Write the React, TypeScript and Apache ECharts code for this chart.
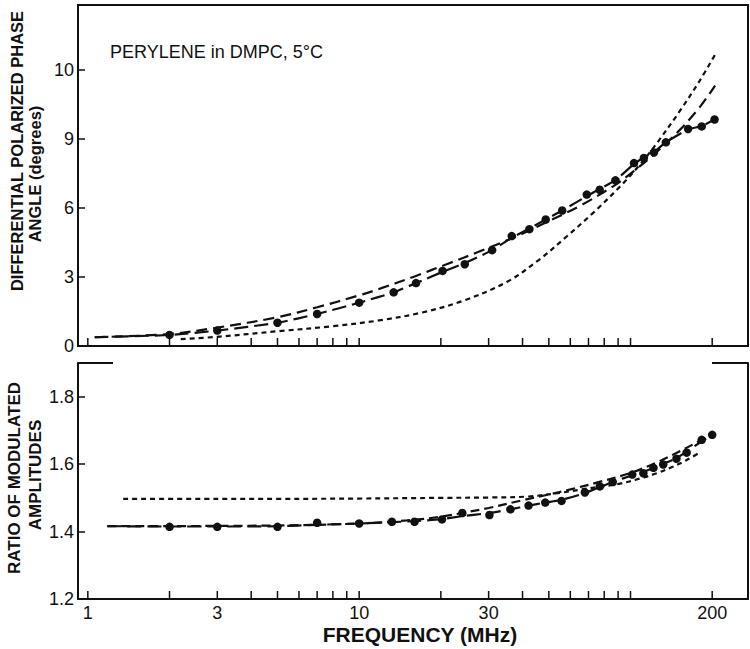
import React, { useEffect, useRef } from "react";
import * as echarts from "echarts";

// ---------- data ----------
// Upper panel: differential polarized phase angle (degrees)
const phaseDataFreq = [2, 3, 5, 7, 10, 13.4, 16.2, 20.3, 24.5, 30.9, 36.5, 42.4, 48.7, 56, 69, 77, 88, 103, 112, 122, 135, 163, 183, 204];
const phaseDataValues = [0.48, 0.67, 1.01, 1.39, 1.88, 2.33, 2.73, 3.26, 3.55, 4.16, 4.77, 5.07, 5.49, 5.88, 6.57, 6.78, 7.19, 7.94, 8.16, 8.4, 8.84, 9.42, 9.53, 9.83];

const phaseFitAFreq = [1.06, 2, 3, 5, 7, 10, 13.4, 16.2, 20.3, 24.5, 30.9, 36.5, 42.4, 48.7, 56, 69, 77, 88, 103, 112, 122, 135, 163, 183, 204];
const phaseFitAValues = [0.38, 0.48, 0.67, 1.01, 1.39, 1.88, 2.33, 2.73, 3.22, 3.6, 4.16, 4.7, 5.1, 5.49, 5.88, 6.5, 6.82, 7.2, 7.9, 8.18, 8.42, 8.84, 9.4, 9.55, 9.83];

const phaseFitBFreq = [1.06, 2, 3, 5, 7, 10, 12, 16, 21, 28, 37, 50, 65, 86, 102, 121, 152, 180, 205];
const phaseFitBValues = [0.38, 0.52, 0.8, 1.25, 1.68, 2.2, 2.5, 3.02, 3.55, 4.12, 4.7, 5.42, 6.08, 6.92, 7.56, 8.28, 9.38, 10.37, 11.3];

const phaseFitCFreq = [2.2, 3, 5, 8, 12, 17, 24, 35, 46, 58, 73, 92, 109, 125, 152, 180, 206];
const phaseFitCValues = [0.3, 0.4, 0.64, 0.86, 1.12, 1.45, 1.95, 2.78, 3.74, 4.74, 5.79, 6.95, 7.91, 8.8, 10.2, 11.52, 12.69];

// Lower panel: ratio of modulated amplitudes
const ratioDataFreq = [2, 3, 5, 7, 10, 13.2, 16, 20.2, 24, 30.2, 36.1, 42.1, 48.5, 55.7, 67.9, 77.1, 86, 101.5, 111.5, 121.5, 132, 147.7, 161, 183, 200];
const ratioDataValues = [1.414, 1.414, 1.414, 1.426, 1.424, 1.429, 1.429, 1.436, 1.455, 1.449, 1.466, 1.477, 1.486, 1.491, 1.516, 1.534, 1.547, 1.569, 1.573, 1.589, 1.599, 1.616, 1.634, 1.672, 1.687];

const ratioFitAFreq = [1.18, 2, 3, 5, 7, 10, 13.2, 16, 20.2, 24, 30.2, 36.1, 42.1, 48.5, 55.7, 67.9, 77.1, 86, 101.5, 111.5, 121.5, 132, 147.7, 161, 183, 200];
const ratioFitAValues = [1.416, 1.415, 1.415, 1.416, 1.42, 1.424, 1.428, 1.431, 1.437, 1.446, 1.455, 1.466, 1.477, 1.486, 1.494, 1.514, 1.532, 1.547, 1.567, 1.577, 1.589, 1.601, 1.618, 1.637, 1.668, 1.687];

const ratioFitBFreq = [1.18, 5, 10, 15, 20, 25, 30, 40, 50, 60, 75, 100, 125, 150, 175, 200];
const ratioFitBValues = [1.416, 1.418, 1.424, 1.433, 1.444, 1.458, 1.47, 1.493, 1.51, 1.525, 1.545, 1.574, 1.605, 1.636, 1.664, 1.69];

const ratioFitCFreq = [1.35, 3, 5, 10, 20, 30, 42, 55, 65, 77, 90, 108, 125, 143, 160, 177];
const ratioFitCValues = [1.497, 1.497, 1.497, 1.498, 1.5, 1.501, 1.504, 1.515, 1.524, 1.533, 1.541, 1.557, 1.573, 1.592, 1.611, 1.631];

// Axes
const xTickValues = [1, 2, 3, 4, 5, 6, 7, 8, 9, 10, 20, 30, 40, 50, 60, 70, 80, 90, 100, 200];
const xLabelValues = [1, 3, 10, 30, 200];
const xLabelTexts = ["1", "3", "10", "30", "200"];
const phaseTicks = [0, 3, 6, 9, 12];
const phaseTickLabels = ["0", "3", "6", "9", "10"];
const ratioTicks = [1.2, 1.4, 1.6, 1.8];
const ratioTickLabels = ["1.2", "1.4", "1.6", "1.8"];

const annotation = "PERYLENE in DMPC, 5°C";
const phaseTitle1 = "DIFFERENTIAL POLARIZED PHASE";
const phaseTitle2 = "ANGLE (degrees)";
const ratioTitle1 = "RATIO OF MODULATED";
const ratioTitle2 = "AMPLITUDES";
const xTitle = "FREQUENCY (MHz)";

// ---------- styling ----------
const INK = "#111";
const FONT = '"Liberation Sans", Arial, Helvetica, sans-serif';
const X_MIN = 0.92;
const X_MAX = 271;
const PHASE_MIN = 0;
const PHASE_MAX = 14.8;
const RATIO_MIN = 1.2;
const RATIO_MAX = 1.9;

const pairs = (xs: number[], ys: number[]) => xs.map((x, i) => [x, ys[i]]);

const labelFor = (ticks: number[], labels: string[]) => (v: number) => {
  const i = ticks.findIndex((t) => Math.abs(t - v) < 1e-6);
  return i >= 0 ? labels[i] : "";
};

const lineSeries = (name: string, data: number[][], dash: number[], axis: number, smooth = 0.35) => ({
  name,
  type: "line",
  xAxisIndex: axis,
  yAxisIndex: axis,
  data,
  smooth,
  symbol: "none",
  silent: true,
  lineStyle: { color: INK, width: 2.2, type: dash, opacity: 1 },
  z: 3,
});

const dotSeries = (name: string, data: number[][], axis: number) => ({
  name,
  type: "scatter",
  xAxisIndex: axis,
  yAxisIndex: axis,
  data,
  symbol: "circle",
  symbolSize: 8.5,
  silent: true,
  itemStyle: { color: INK, opacity: 1 },
  z: 4,
});

const tickSeries = (axis: number, yBase: number) => ({
  type: "custom",
  xAxisIndex: axis,
  yAxisIndex: axis,
  silent: true,
  data: xTickValues.map((v) => [v, yBase]),
  renderItem: (_params: any, api: any) => {
    const p = api.coord([api.value(0), api.value(1)]);
    return {
      type: "line",
      shape: { x1: p[0], y1: p[1], x2: p[0], y2: p[1] - 8 },
      style: { stroke: INK, lineWidth: 1.5 },
    };
  },
  z: 5,
});

const xLabelSeries = {
  type: "custom",
  xAxisIndex: 1,
  yAxisIndex: 1,
  silent: true,
  data: xLabelValues.map((v) => [v, RATIO_MIN]),
  renderItem: (params: any, api: any) => {
    const p = api.coord([api.value(0), api.value(1)]);
    return {
      type: "text",
      x: p[0],
      y: p[1] + 14,
      style: {
        text: xLabelTexts[params.dataIndex],
        fill: INK,
        fontSize: 18,
        fontFamily: FONT,
        align: "center",
        verticalAlign: "middle",
        textAlign: "center",
        textVerticalAlign: "middle",
      },
    };
  },
  z: 5,
};

const vText = (text: string, x: number, y: number, size: number) => ({
  type: "text",
  x,
  y,
  rotation: Math.PI / 2,
  style: {
    text,
    fill: INK,
    fontSize: size,
    fontWeight: "bold",
    fontFamily: FONT,
    align: "center",
    verticalAlign: "middle",
    textAlign: "center",
    textVerticalAlign: "middle",
  },
});

const yAxisCommon = {
  type: "value",
  axisLine: { show: true, lineStyle: { color: INK, width: 2 } },
  axisTick: { show: true, inside: true, length: 7, lineStyle: { color: INK, width: 1.5 } },
  splitLine: { show: false },
};

const option = {
  animation: false,
  backgroundColor: "#fff",
  grid: [
    { left: 78, top: 5, width: 670, height: 341, show: true, borderColor: INK, borderWidth: 2, backgroundColor: "transparent" },
    { left: 78, top: 363, width: 670, height: 236, show: false },
  ],
  xAxis: [
    {
      type: "log",
      gridIndex: 0,
      min: X_MIN,
      max: X_MAX,
      axisLine: { show: true, onZero: false, lineStyle: { color: INK, width: 2 } },
      axisTick: { show: false },
      axisLabel: { show: false },
      splitLine: { show: false },
      minorTick: { show: false },
    },
    {
      type: "log",
      gridIndex: 1,
      min: X_MIN,
      max: X_MAX,
      axisLine: { show: true, onZero: false, lineStyle: { color: INK, width: 2 } },
      axisTick: { show: false },
      axisLabel: { show: false },
      splitLine: { show: false },
      minorTick: { show: false },
    },
  ],
  yAxis: [
    {
      ...yAxisCommon,
      gridIndex: 0,
      min: PHASE_MIN,
      max: PHASE_MAX,
      interval: 3,
      axisLabel: {
        formatter: labelFor(phaseTicks, phaseTickLabels),
        color: INK,
        fontSize: 18,
        fontFamily: FONT,
        margin: 4,
        showMaxLabel: false,
      },
    },
    {
      ...yAxisCommon,
      gridIndex: 1,
      min: RATIO_MIN,
      max: RATIO_MAX,
      interval: 0.2,
      axisLabel: {
        formatter: labelFor(ratioTicks, ratioTickLabels),
        color: INK,
        fontSize: 18,
        fontFamily: FONT,
        margin: 4,
        showMaxLabel: false,
      },
    },
    {
      type: "value",
      gridIndex: 1,
      position: "right",
      min: RATIO_MIN,
      max: RATIO_MAX,
      interval: 0.2,
      axisLine: { show: true, lineStyle: { color: INK, width: 2 } },
      axisTick: { show: false },
      axisLabel: { show: false },
      splitLine: { show: false },
    },
  ],
  graphic: [
    {
      type: "text",
      left: 110,
      top: 43,
      style: { text: annotation, fill: INK, fontSize: 18, fontFamily: FONT },
    },
    vText(phaseTitle1, 17, 151, 16.5),
    vText(phaseTitle2, 35, 174, 16.5),
    vText(ratioTitle1, 14, 478, 17),
    vText(ratioTitle2, 35, 475, 17),
    {
      type: "text",
      x: 420,
      y: 634,
      style: {
        text: xTitle,
        fill: INK,
        fontSize: 21,
        fontWeight: "bold",
        fontFamily: FONT,
        align: "center",
        verticalAlign: "middle",
        textAlign: "center",
        textVerticalAlign: "middle",
      },
    },
    { type: "line", shape: { x1: 78, y1: 363, x2: 113, y2: 363 }, style: { stroke: INK, lineWidth: 2 } },
    { type: "line", shape: { x1: 712, y1: 363, x2: 748, y2: 363 }, style: { stroke: INK, lineWidth: 2 } },
  ],
  series: [
    lineSeries("phase fit A", pairs(phaseFitAFreq, phaseFitAValues), [14, 6], 0, 0.2),
    lineSeries("phase fit B", pairs(phaseFitBFreq, phaseFitBValues), [11, 6], 0),
    lineSeries("phase fit C", pairs(phaseFitCFreq, phaseFitCValues), [5, 4], 0),
    dotSeries("phase data", pairs(phaseDataFreq, phaseDataValues), 0),
    lineSeries("ratio fit A", pairs(ratioFitAFreq, ratioFitAValues), [14, 6], 1, 0.2),
    lineSeries("ratio fit B", pairs(ratioFitBFreq, ratioFitBValues), [9, 5], 1),
    lineSeries("ratio fit C", pairs(ratioFitCFreq, ratioFitCValues), [5, 4], 1),
    dotSeries("ratio data", pairs(ratioDataFreq, ratioDataValues), 1),
    tickSeries(0, PHASE_MIN),
    tickSeries(1, RATIO_MIN),
    xLabelSeries,
  ],
};

export default function App() {
  const ref = useRef<HTMLDivElement>(null);
  useEffect(() => {
    if (!ref.current) return;
    const chart = echarts.init(ref.current, null, { renderer: "svg" });
    chart.setOption(option as any);
    return () => chart.dispose();
  }, []);
  return (
    <div
      ref={ref}
      style={{ position: "fixed", left: 0, top: 0, width: 750, height: 649, background: "#fff" }}
    />
  );
}
